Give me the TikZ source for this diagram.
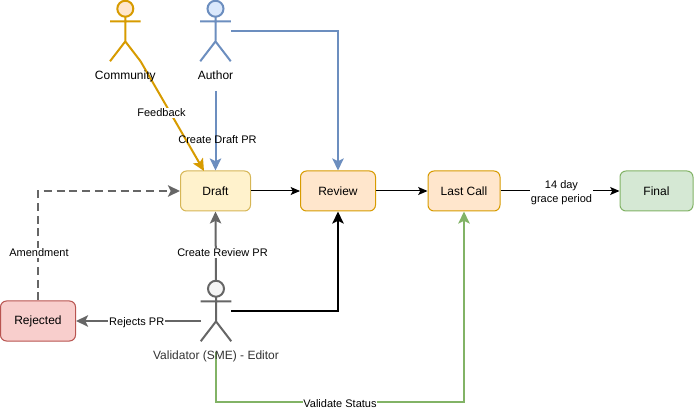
\documentclass[tikz,border=0pt]{standalone}
\usepackage{fontspec}
\setmainfont{Liberation Sans}
\usetikzlibrary{arrows.meta,calc}
\definecolor{orangeL}{HTML}{D79B00}\definecolor{orangeF}{HTML}{FFE6CC}
\definecolor{blueL}{HTML}{6C8EBF}\definecolor{blueF}{HTML}{DAE8FC}
\definecolor{grayL}{HTML}{666666}\definecolor{grayF}{HTML}{F5F5F5}
\definecolor{greenL}{HTML}{82B366}\definecolor{greenF}{HTML}{D5E8D4}
\definecolor{redL}{HTML}{B85450}\definecolor{redF}{HTML}{F8CECC}
\definecolor{yellowL}{HTML}{D6B656}\definecolor{yellowF}{HTML}{FFF2CC}
\tikzset{
  px/.style={x=0.75pt,y=-0.75pt},
  stage/.style={draw,rounded corners=4.5pt,line width=0.75pt,minimum height=30pt,inner sep=0pt,font=\fontsize{9pt}{10.5pt}\selectfont},
  actorbox/.style={minimum width=22.5pt,minimum height=45pt,inner sep=0pt},
  actorlabel/.style={font=\fontsize{9pt}{10.5pt}\selectfont,inner sep=0.5pt,anchor=base},
  edgelabel/.style={fill=white,font=\fontsize{8.25pt}{10pt}\selectfont,inner sep=0.6pt,align=center},
  thin flow/.style={line width=0.75pt,black,-{Stealth[length=7pt,width=6pt,inset=1.5pt]}},
  thick flow/.style={line width=1.5pt,-{Stealth[length=9pt,width=8.5pt,inset=2pt]}},
}
\newcommand{\stagetext}[1]{\raisebox{-0.6pt}{#1}}
\newcommand{\stickman}[3]{%
  \draw[#2,fill=#3,line width=1.5pt] ($(#1.north)+(0,-6pt)$) circle (6pt);
  \draw[#2,line width=1.5pt] ($(#1.north)+(0,-12pt)$) -- ($(#1.north)+(0,-30pt)$)
    ($(#1.north west)+(0,-15.5pt)$) -- ($(#1.north east)+(0,-15.5pt)$)
    ($(#1.south west)$) -- ($(#1.north)+(0,-30.5pt)$) -- ($(#1.south east)$);
}
\begin{document}
\begin{tikzpicture}[px]
\useasboundingbox (0,0) rectangle (694,410);
% stages
\node[stage,fill=yellowF,draw=yellowL,minimum width=52.5pt] (draft) at (215.5,191) {\stagetext{Draft}};
\node[stage,fill=orangeF,draw=orangeL,minimum width=56.25pt] (review) at (338,191) {\stagetext{Review}};
\node[stage,fill=orangeF,draw=orangeL,minimum width=54pt] (lastcall) at (464,191) {\stagetext{Last Call}};
\node[stage,fill=greenF,draw=greenL,minimum width=54.75pt] (final) at (656.5,191) {\stagetext{Final}};
\node[stage,fill=redF,draw=redL,minimum width=56.25pt] (rejected) at (38,321) {\stagetext{Rejected}};
% actors
\node[actorbox] (community) at (125.3,31) {};
\node[actorbox] (author) at (215.5,31) {};
\node[actorbox] (validator) at (216,311) {};
\coordinate (authorout) at (231,31);
\coordinate (authorfoot) at (215.5,91);
\coordinate (validatorfoot) at (216,352);
\coordinate (draftin) at (204,171);
\coordinate (amendcorner) at (38,191);
\coordinate (authorcorner) at (338,31);
\coordinate (validcorner) at (338,311);
\coordinate (rejectout) at (201,321);
\coordinate (greenA) at (216,402);
\coordinate (greenB) at (464,402);
% connectors
\draw[thick flow,draw=orangeL] (community.south east) -- (draftin);
\node[edgelabel] (feedbacklabel) at (161.5,113) {Feedback};
\draw[thick flow,draw=blueL] (authorfoot) -- (authorfoot |- draft.north);
\node[edgelabel,fill=none] (draftprlabel) at (217.5,140) {Create Draft PR};
\draw[thick flow,draw=blueL] (authorout) -- (authorcorner) -- (review.north);
\draw[thick flow,draw=grayL] (validator.north) -- (draft.south);
\node[edgelabel] (reviewprlabel) at (222.5,252.7) {Create Review PR};
\draw[thick flow,draw=black] (validator.east |- validcorner) -- (validcorner) -- (review.south);
\draw[thick flow,draw=grayL] (rejectout) -- (rejected.east);
\node[edgelabel] (rejectslabel) at (136.7,322.7) {Rejects PR};
\draw[thick flow,draw=grayL,dash pattern=on 6pt off 3.6pt] (rejected.north) -- (amendcorner) -- (draft.west);
\node[edgelabel] (amendlabel) at (39,252.7) {Amendment};
\draw[thick flow,draw=greenL] (validatorfoot) -- (greenA) -- (greenB) -- (lastcall.south);
\node[edgelabel] (validlabel) at (340,403.5) {Validate Status};
\draw[thin flow] (draft.east) -- (review.west);
\draw[thin flow] (review.east) -- (lastcall.west);
\draw[thin flow] (lastcall.east) -- (final.west);
\node[edgelabel] (gracelabel) at (561.5,192.5) {14 day\\grace period};
% stick figures and their names
\stickman{community}{orangeL}{orangeF}
\stickman{author}{blueL}{blueF}
\stickman{validator}{grayL}{grayF}
\node[actorlabel] (communitylabel) at (125.3,79.5) {Community};
\node[actorlabel] (authorlabel) at (215.5,79.5) {Author};
\node[actorlabel,text=black!80] (validatorlabel) at (216,359.5) {Validator (SME) - Editor};
\end{tikzpicture}
\end{document}
